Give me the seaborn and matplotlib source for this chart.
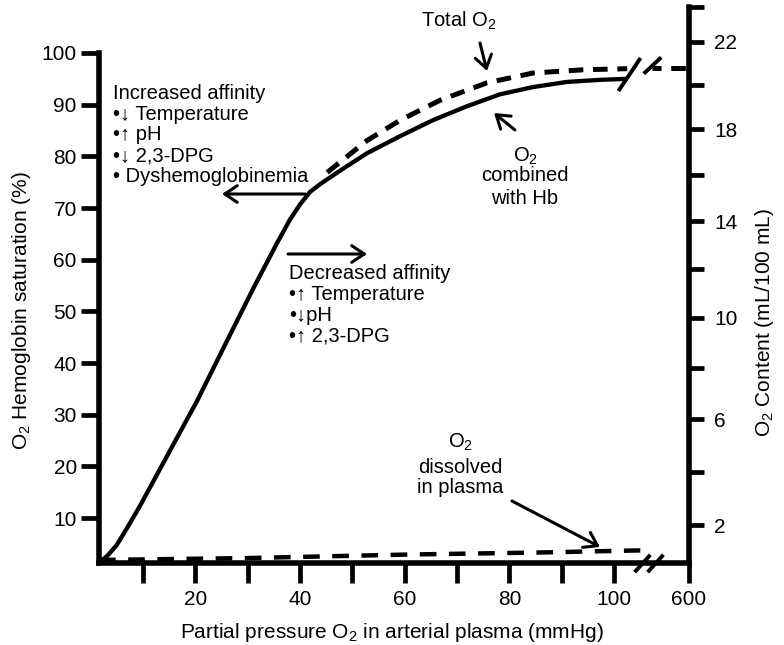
import numpy as np
import matplotlib
matplotlib.use("Agg")
import matplotlib.pyplot as plt
import seaborn as sns

# ---------------- data ----------------
po2_hb = [1.6, 3.3, 5.0, 7.1, 9.4, 14.6, 20.3, 26.0, 31.0, 35.6, 38.1,
          40.0, 41.9, 43.8, 48.2, 52.8, 59.1, 65.4, 71.9, 78.2, 84.5,
          91.0, 97.3, 102.5]
sat_hb = [1.3, 2.8, 4.8, 8.3, 12.3, 22.0, 32.6, 44.2, 54.3, 63.2, 67.8,
          70.7, 73.1, 74.6, 77.6, 80.6, 83.9, 87.0, 89.7, 92.0, 93.4,
          94.4, 94.8, 95.0]

po2_total = [45.2, 52.8, 59.1, 66.7, 75.7, 84.5, 94.1, 102.5]
content_total = [16.1, 17.5, 18.4, 19.3, 20.1, 20.55, 20.7, 20.75]
po2_total_tail = [107.3, 114.3]
content_total_tail = [20.8, 20.8]

po2_dissolved = [1.6, 30.0, 61.0, 85.0, 102.3, 105.0]
content_dissolved = [0.72, 0.79, 0.92, 0.99, 1.06, 1.07]

x_ticks = [10, 20, 30, 40, 50, 60, 70, 80, 90, 100]
x_tick_labels = ["", "20", "", "40", "", "60", "", "80", "", "100"]
x_far_value = 114.3
x_far_label = "600"
left_ticks = [10, 20, 30, 40, 50, 60, 70, 80, 90, 100]
right_ticks = [2, 4, 6, 8, 10, 12, 14, 16, 18, 20, 22]
right_tick_labels = ["2", "", "6", "", "10", "", "14", "", "18", "", "22"]

# axis ranges
x_lim = (1.6, 114.3)
left_lim = (1.3, 108.9)
right_lim = (0.61, 23.66)
# the right axis of the drawing is not linear: quadratic shape coefficients
R_B, R_C = 27.63, 0.145
# axis-break positions
break_curve = [(102.9, 96.0), (107.2, 97.7)]
break_axis = [105.4, 107.8]

# ---------------- style ----------------
sns.set_theme(style="white")
plt.rcParams["font.family"] = ["Liberation Sans", "DejaVu Sans"]
plt.rcParams["mathtext.fontset"] = "custom"
plt.rcParams["mathtext.rm"] = "Liberation Sans"
plt.rcParams["mathtext.it"] = "Liberation Sans:italic"
plt.rcParams["mathtext.bf"] = "Liberation Sans:bold"
plt.rcParams["lines.scale_dashes"] = False
for k in ["text.color", "axes.labelcolor", "xtick.color", "ytick.color",
          "xtick.labelcolor", "ytick.labelcolor"]:
    plt.rcParams[k] = "black"

W, H = 784, 645
fig = plt.figure(figsize=(W / 100, H / 100), dpi=100)
ax = fig.add_axes([99 / W, 82 / H, 590 / W, 556 / H])
ax.set_facecolor("none")
ax2 = ax.twinx()


def fwd(v):
    v = np.asarray(v, dtype=float)
    return R_B * v - R_C * v ** 2


def inv(f):
    f = np.asarray(f, dtype=float)
    return (R_B - np.sqrt(np.maximum(R_B ** 2 - 4 * R_C * f, 0))) / (2 * R_C)


ax2.set_yscale("function", functions=(fwd, inv))

LW_SPINE = 4.0
TXT = 14.5
TICK = 15

# curves
sns.lineplot(x=po2_hb, y=sat_hb, ax=ax, color="black", linewidth=3.1,
             sort=False, estimator=None, solid_capstyle="butt",
             solid_joinstyle="round")
dash = (0, (10.5, 7))
sns.lineplot(x=po2_total, y=content_total, ax=ax2, color="black",
             linewidth=3.6, sort=False, estimator=None, linestyle=dash)
sns.lineplot(x=po2_total_tail, y=content_total_tail, ax=ax2, color="black",
             linewidth=3.6, sort=False, estimator=None,
             linestyle=(4, (10.5, 7)), clip_on=False)
sns.lineplot(x=po2_dissolved, y=content_dissolved, ax=ax2, color="black",
             linewidth=3.2, sort=False, estimator=None,
             linestyle=(0, (12, 9)), clip_on=False)

ax.set_xlim(*x_lim)
ax.set_ylim(*left_lim)
ax2.set_ylim(*right_lim)

# spines
for s in ["top", "right"]:
    ax.spines[s].set_visible(False)
for s in ["top", "left", "bottom"]:
    ax2.spines[s].set_visible(False)
ax.spines["left"].set_bounds(left_lim[0], 100)
for sp in [ax.spines["left"], ax.spines["bottom"], ax2.spines["right"]]:
    sp.set_linewidth(LW_SPINE)
    sp.set_color("black")
    sp.set_capstyle("projecting")

# ticks
ax.set_xticks(x_ticks + [x_far_value])
ax.set_xticklabels(x_tick_labels + [x_far_label])
ax.xaxis.get_major_ticks()[-1].tick1line.set_visible(False)
ax.tick_params(axis="x", direction="out", length=14.5, width=3.4, pad=5,
               labelsize=TICK, bottom=True, colors="black")
ax.set_yticks(left_ticks)
ax.set_yticklabels([str(t) for t in left_ticks])
ax.tick_params(axis="y", direction="out", length=13, width=3.4, pad=3,
               labelsize=TICK, left=True, colors="black")
ax2.set_yticks(right_ticks + [right_lim[1]])
ax2.set_yticklabels(right_tick_labels + [""])
ax2.yaxis.set_minor_locator(matplotlib.ticker.NullLocator())
ax2.tick_params(axis="y", direction="out", length=11, width=3.4, pad=7,
                labelsize=TICK, right=True, colors="black")
ax.set_xlabel("")
ax.set_ylabel("")
ax2.set_ylabel("")

# break marks
ax.plot([break_curve[0][0]], [break_curve[0][1]], linestyle="none",
        marker=[(-0.67, -1), (0.67, 1)], ms=23.8, mew=2.8, mec="black",
        clip_on=False, zorder=6)
ax.plot([break_curve[1][0]], [break_curve[1][1]], linestyle="none",
        marker=[(-1, -0.94), (1, 0.94)], ms=12.5, mew=2.8, mec="black",
        clip_on=False, zorder=6)
ax.plot(break_axis, [left_lim[0]] * 2, linestyle="none",
        marker=[(-0.9, -1), (0.9, 1)], ms=12.5, mew=2.8, mec="black",
        clip_on=False, zorder=6)


def P(x, y):
    return (x / W, 1 - y / H)


# axis labels
fig.text(*P(392, 632), "Partial pressure O$_2$ in arterial plasma (mmHg)",
         ha="center", va="center", fontsize=15)
fig.text(*P(22, 311), "O$_2$ Hemoglobin saturation (%)", ha="center",
         va="center", rotation=90, fontsize=15)
fig.text(*P(765, 323), "O$_2$ Content (mL/100 mL)", ha="center",
         va="center", rotation=90, fontsize=15)

# annotations
inc = ["Increased affinity", "\u2022\u2193 Temperature", "\u2022\u2191 pH",
       "\u2022\u2193 2,3-DPG", "\u2022 Dyshemoglobinemia"]
for i, t in enumerate(inc):
    fig.text(*P(113, 99 + i * 20.7), t, ha="left", va="baseline",
             fontsize=TXT)
dec = ["Decreased affinity", "\u2022\u2191 Temperature", "\u2022\u2193pH",
       "\u2022\u2191 2,3-DPG"]
for i, t in enumerate(dec):
    fig.text(*P(289, 279 + i * 21), t, ha="left", va="baseline",
             fontsize=TXT)

fig.text(*P(459, 27), "Total O$_2$", ha="center", va="baseline", fontsize=TXT)
for t, yb in zip(["O$_2$", "combined", "with Hb"], [162, 181, 204]):
    fig.text(*P(525, yb), t, ha="center", va="baseline", fontsize=TXT)
for t, yb in zip(["O$_2$", "dissolved", "in plasma"], [448, 473, 493]):
    fig.text(*P(460, yb), t, ha="center", va="baseline", fontsize=TXT)


def arrow(tail, tip):
    ax.annotate("", xy=(tip[0], H - tip[1]), xycoords="figure pixels",
                xytext=(tail[0], H - tail[1]), textcoords="figure pixels",
                arrowprops=dict(arrowstyle="->,head_length=0.45,head_width=0.3",
                                lw=2.2, color="black", shrinkA=0, shrinkB=0,
                                mutation_scale=20))


arrow((305, 194), (222, 194))
arrow((288, 254), (367, 254))
arrow((480, 43), (487, 71))
arrow((515, 130), (494, 113))
arrow((512, 501), (600, 547))

fig.savefig("out.png", dpi=100)
